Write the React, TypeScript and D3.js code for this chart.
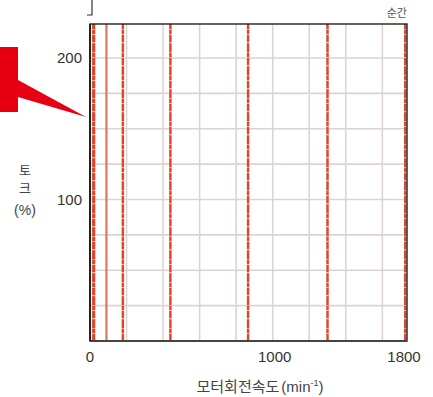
import React from "react";
import * as d3 from "d3";

// motor speed (min-1) of each measured torque trace
const traceSpeeds = [20, 90, 180, 440, 865, 1300, 1725];
const traceSolid = [false, true, false, false, false, false, false];
const xGridValues = [200, 400, 600, 800, 1000, 1200, 1400, 1600];
const yGridValues = [25, 50, 75, 100, 125, 150, 175, 200];
const xTickValues = [0, 1000, 1735];
const xTickLabels = ["0", "1000", "1800"];
const yTickValues = [100, 200];

const W = 433;
const H = 397;
const margin = { left: 90, right: 26, top: 24, bottom: 56 };

const App = () => {
  const x = d3
    .scaleLinear()
    .domain([0, 1735])
    .range([margin.left, W - margin.right]);
  const y = d3
    .scaleLinear()
    .domain([0, 224])
    .range([H - margin.bottom, margin.top]);

  const [x0, x1] = x.range();
  const [y0, y1] = y.range();
  const sans = "'Liberation Sans', Arial, sans-serif";
  const kr = "'Noto Sans CJK KR', sans-serif";

  return (
    <svg
      width={W}
      height={H}
      style={{ position: "absolute", left: 0, top: 0, background: "#fff" }}
    >
      {/* red callout arrow */}
      <polygon
        points="0,47 18,47 18,80 86,117 18,97 18,112 0,112"
        fill="#e60012"
      />
      {/* bracket mark at top */}
      <path d="M92,0 V15 H87" fill="none" stroke="#333" strokeWidth={1.2} />
      <text
        x={x1}
        y={17}
        textAnchor="end"
        fontFamily={kr}
        fontSize={11}
        fill="#555"
      >
        순간
      </text>

      {/* grid */}
      <g stroke="#ddd4d1" strokeWidth={1.6}>
        {xGridValues.map((v) => (
          <line key={"gx" + v} x1={x(v)} x2={x(v)} y1={y0} y2={y1} />
        ))}
        {yGridValues.map((v) => (
          <line key={"gy" + v} x1={x0} x2={x1} y1={y(v)} y2={y(v)} />
        ))}
      </g>

      {/* torque traces */}
      {traceSpeeds.map((s, i) => (
        <g key={"t" + s}>
          {!traceSolid[i] && (
            <line
              x1={x(s)}
              x2={x(s)}
              y1={y0}
              y2={y1}
              stroke="#f0b8a8"
              strokeWidth={i === 0 ? 3.4 : 2.6}
            />
          )}
          <line
            x1={x(s)}
            x2={x(s)}
            y1={y0}
            y2={y1}
            stroke={traceSolid[i] ? "#d9785a" : "#df4428"}
            strokeWidth={i === 0 ? 3 : 2.2}
            strokeDasharray={traceSolid[i] ? undefined : "7 1 4 0.8 9 1.2"}
          />
        </g>
      ))}

      {/* frame */}
      <rect
        x={x0}
        y={y1}
        width={x1 - x0}
        height={y0 - y1}
        fill="none"
        stroke="#222"
        strokeWidth={1.4}
      />
      <line x1={x0} x2={x1} y1={y0} y2={y0} stroke="#444" strokeWidth={2} />
      <line x1={x0} x2={x0} y1={y1} y2={y0} stroke="#222" strokeWidth={2} />

      {/* y ticks */}
      {yTickValues.map((v) => (
        <text
          key={"yt" + v}
          x={82}
          y={y(v)}
          dy="0.35em"
          textAnchor="end"
          fontFamily={sans}
          fontSize={15}
          fill="#333"
        >
          {v}
        </text>
      ))}
      {/* x ticks */}
      {xTickValues.map((v, i) => (
        <text
          key={"xt" + v}
          x={i === 2 ? x(v) - 3 : i === 1 ? x(v) + 2 : x(v)}
          y={362}
          textAnchor="middle"
          fontFamily={sans}
          fontSize={15}
          fill="#333"
        >
          {xTickLabels[i]}
        </text>
      ))}

      {/* y title */}
      <g fontFamily={kr} fontSize={13} fill="#444" textAnchor="middle">
        <text x={25} y={175}>토</text>
        <text x={25} y={193}>크</text>
        <text x={25} y={215} fontFamily={sans} fontSize={14}>(%)</text>
      </g>

      {/* x title */}
      <text
        x={260}
        y={392}
        textAnchor="middle"
        fontFamily={kr}
        fontSize={15}
        fill="#444"
      >
        모터회전속도
        <tspan fontFamily={sans} dx={2}>(min</tspan>
        <tspan fontFamily={sans} fontSize={9} dy={-6}>-1</tspan>
        <tspan fontFamily={sans} dy={6}>)</tspan>
      </text>
    </svg>
  );
};

export default App;
